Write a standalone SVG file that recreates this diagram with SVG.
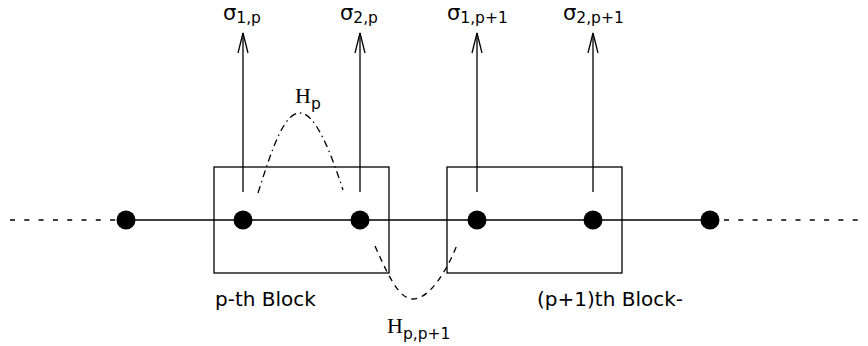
<svg xmlns="http://www.w3.org/2000/svg" width="868" height="346" viewBox="0 0 868 346">
<style>
.ln{stroke:#000;stroke-width:1.3;fill:none}
.dsh{stroke:#000;stroke-width:1.3;fill:none;stroke-dasharray:5 9.3}
.blk{stroke:#000;stroke-width:1.3;fill:none}
.dot{fill:#000}
.sig{font-family:"DejaVu Sans",sans-serif;font-size:21px}
.sub{font-family:"DejaVu Sans",sans-serif;font-size:15.5px}
.H{font-family:"Liberation Serif",serif;font-size:22px}
.lbl{font-family:"DejaVu Sans",sans-serif;font-size:20px}
</style>
<defs>
<marker id="arr" viewBox="0 0 22 12" refX="21" refY="6" markerWidth="22" markerHeight="12" markerUnits="userSpaceOnUse" orient="auto">
<polyline points="1,1 21,6 1,11" fill="none" stroke="#000" stroke-width="1.3"/>
</marker>
</defs>
<g id="connectors">
<line class="dsh" x1="10" y1="220" x2="117" y2="220"/>
<line class="dsh" x1="724" y1="220" x2="866" y2="220"/>
<line class="ln" x1="126" y1="220" x2="710" y2="220"/>
<line class="ln" x1="243" y1="192" x2="243" y2="33" marker-end="url(#arr)"/>
<line class="ln" x1="360" y1="192" x2="360" y2="33" marker-end="url(#arr)"/>
<line class="ln" x1="477" y1="192" x2="477" y2="33" marker-end="url(#arr)"/>
<line class="ln" x1="593" y1="192" x2="593" y2="33" marker-end="url(#arr)"/>
<path id="Hp-curve" class="ln" stroke-dasharray="7 4 1.5 4" d="M258,193 C274,142 285,113 300,113 C315,113 330,150 343,190"/>
<path id="Hpp1-curve" class="ln" stroke-dasharray="6 5" d="M375,246 C390,280 400,299 413,299 C428,299 445,275 457,245"/>
</g>
<g id="block-p">
<rect class="blk" x="214" y="167" width="175" height="106"/>
<text class="lbl" x="215" y="306">p-th Block</text>
</g>
<g id="block-p1">
<rect class="blk" x="447" y="167" width="175" height="106"/>
<text class="lbl" x="537" y="306">(p+1)th Block-</text>
</g>
<g id="node-left"><circle class="dot" cx="126" cy="220" r="9.5"/></g>
<g id="node-1p"><circle class="dot" cx="243" cy="220" r="9.5"/></g>
<g id="node-2p"><circle class="dot" cx="360" cy="220" r="9.5"/></g>
<g id="node-1p1"><circle class="dot" cx="477" cy="220" r="9.5"/></g>
<g id="node-2p1"><circle class="dot" cx="593" cy="220" r="9.5"/></g>
<g id="node-right"><circle class="dot" cx="710" cy="220" r="9.5"/></g>
<g id="labels">
<text x="223" y="20"><tspan class="sig">σ</tspan><tspan class="sub" dy="3">1,p</tspan></text>
<text x="340" y="20"><tspan class="sig">σ</tspan><tspan class="sub" dy="3">2,p</tspan></text>
<text x="447" y="20"><tspan class="sig">σ</tspan><tspan class="sub" dy="3">1,p+1</tspan></text>
<text x="563" y="20"><tspan class="sig">σ</tspan><tspan class="sub" dy="3">2,p+1</tspan></text>
<text x="295" y="103"><tspan class="H">H</tspan><tspan class="sub" dy="5.5">p</tspan></text>
<text x="387" y="333"><tspan class="H">H</tspan><tspan class="sub" dy="5.5">p,p+1</tspan></text>
</g>
</svg>
